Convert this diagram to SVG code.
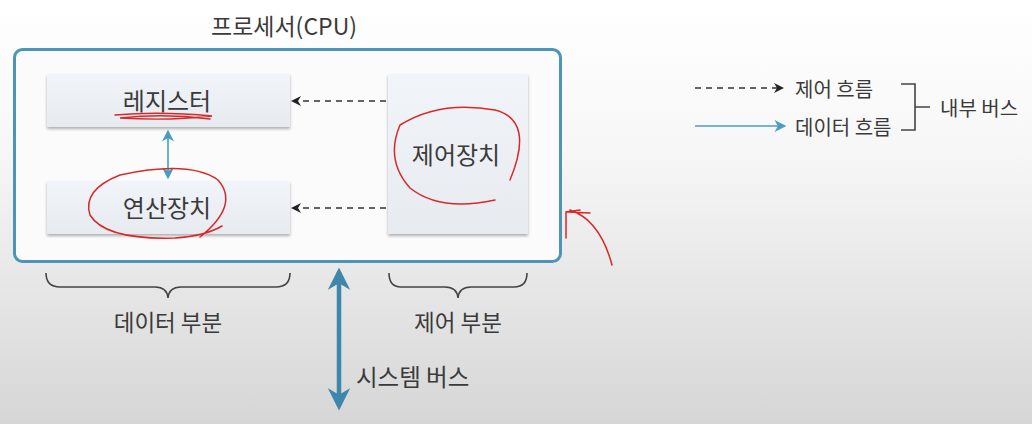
<svg xmlns="http://www.w3.org/2000/svg" width="1032" height="424" viewBox="0 0 1032 424">
<defs>
<linearGradient id="bg" x1="0" y1="0" x2="0" y2="1">
<stop offset="0" stop-color="#ffffff"/>
<stop offset="0.35" stop-color="#f7f7f7"/>
<stop offset="1" stop-color="#d6d6d6"/>
</linearGradient>
<linearGradient id="boxg" x1="0" y1="0" x2="0" y2="1">
<stop offset="0" stop-color="#f1f4f8"/>
<stop offset="1" stop-color="#e7ebf0"/>
</linearGradient>
<filter id="sh" x="-10%" y="-10%" width="120%" height="130%">
<feDropShadow dx="0" dy="2" stdDeviation="1.5" flood-color="#000" flood-opacity="0.3"/>
</filter>
<marker id="ak" viewBox="0 0 10 10" refX="8" refY="5" markerWidth="10" markerHeight="10" markerUnits="userSpaceOnUse" orient="auto">
<path d="M0,0 L10,5 L0,10 L3,5 Z" fill="#222"/>
</marker>
<marker id="ab" viewBox="0 0 10 10" refX="8" refY="5" markerWidth="12" markerHeight="12" markerUnits="userSpaceOnUse" orient="auto-start-reverse">
<path d="M0,0 L10,5 L0,10 L3,5 Z" fill="#4a9dc0"/>
</marker>
<marker id="abig" viewBox="0 0 10 10" refX="8" refY="5" markerWidth="5" markerHeight="5" orient="auto-start-reverse">
<path d="M0,0 L10,5 L0,10 L3,5 Z" fill="#3f87aa"/>
</marker>
</defs>
<style>
text{font-family:"Noto Sans CJK KR","Noto Sans",sans-serif;fill:#3a3a3a}
.lbl{font-size:24px;text-anchor:middle}
.box{fill:url(#boxg);filter:url(#sh)}
.dash{stroke:#333;stroke-width:1.5;stroke-dasharray:6 5;fill:none}
.brace{fill:none;stroke:#444;stroke-width:1.6}
.red{fill:none;stroke:#d8282a;stroke-width:1.5;stroke-linecap:round}
</style>
<rect width="1032" height="424" fill="url(#bg)"/>
<text x="284" y="35" class="lbl" style="font-size:23px">프로세서(CPU)</text>
<rect id="cpu" x="14.5" y="49.5" width="546" height="212" rx="8" fill="#fbfbfb" stroke="#4c95b8" stroke-width="3"/>
<g id="register"><rect class="box" x="47" y="74" width="243" height="53"/><text x="167" y="110" class="lbl">레지스터</text></g>
<g id="alu"><rect class="box" x="47" y="181" width="243" height="53"/><text x="167" y="217" class="lbl">연산장치</text></g>
<g id="control"><rect class="box" x="388" y="74" width="140" height="160"/><text x="456" y="164" class="lbl">제어장치</text></g>
<g id="connectors">
<line class="dash" x1="386" y1="101" x2="293" y2="101" marker-end="url(#ak)"/>
<line class="dash" x1="386" y1="208" x2="293" y2="208" marker-end="url(#ak)"/>
<line x1="168" y1="132" x2="168" y2="177" stroke="#4a9dc0" stroke-width="1.6" marker-start="url(#ab)" marker-end="url(#ab)"/>
<line x1="339" y1="272" x2="339" y2="406" stroke="#3f87aa" stroke-width="4.5" marker-start="url(#abig)" marker-end="url(#abig)"/>
</g>
<g id="data-part">
<path class="brace" d="M46,273 Q46,287 60,287 L155,287 Q167,287 168,298 Q169,287 181,287 L276,287 Q290,287 290,273"/>
<text x="168" y="331" class="lbl" style="font-size:22.5px">데이터 부분</text>
</g>
<g id="control-part">
<path class="brace" d="M389,273 Q389,287 401,287 L445,287 Q457,287 458,298 Q459,287 471,287 L514,287 Q527,287 527,273"/>
<text x="458" y="331" class="lbl" style="font-size:22.5px">제어 부분</text>
</g>
<g id="system-bus"><text x="356" y="386" style="font-size:23.5px">시스템 버스</text></g>
<g id="legend">
<line class="dash" x1="695" y1="88" x2="782" y2="88" marker-end="url(#ak)"/>
<text x="795" y="97" style="font-size:20px">제어 흐름</text>
<line x1="695" y1="126" x2="784" y2="126" stroke="#4a9dc0" stroke-width="1.6" marker-end="url(#ab)"/>
<text x="795" y="135" style="font-size:20px">데이터 흐름</text>
<path class="brace" d="M901,84 L915,84 L915,130 L901,130 M915,107 L930,107"/>
<text x="940" y="116" style="font-size:20px">내부 버스</text>
</g>
<g id="annotations">
<path class="red" d="M115,115 Q160,111 212,116 Q170,121 120,118 Q165,113 210,119"/>
<path class="red" d="M200,237 Q240,205 218,180 Q190,160 120,175 Q82,190 90,215 Q105,240 175,238 Q205,236 222,226"/>
<path class="red" d="M510,180 Q535,120 495,110 Q440,100 400,125 Q385,160 410,188 Q440,212 495,200"/>
<path class="red" d="M612,265 Q600,220 570,210 M580,210 L566,212 L566,238 M568,212 L590,213"/>
</g>
</svg>
